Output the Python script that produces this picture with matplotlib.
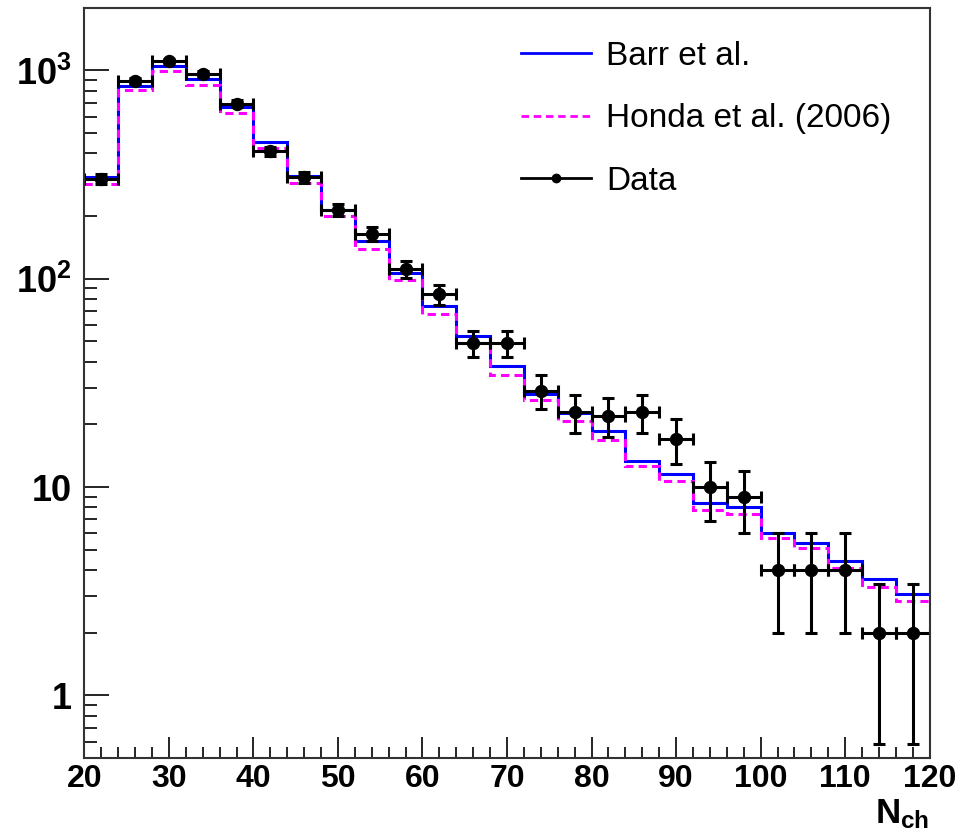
import numpy as np
import matplotlib
matplotlib.use('Agg')
import matplotlib.pyplot as plt
from matplotlib.lines import Line2D
from matplotlib.ticker import FixedLocator, FixedFormatter, MultipleLocator

plt.rcParams['font.family'] = ['Liberation Sans', 'DejaVu Sans']
plt.rcParams['mathtext.fontset'] = 'custom'
plt.rcParams['mathtext.bf'] = 'Liberation Sans:bold'
plt.rcParams['mathtext.rm'] = 'Liberation Sans'

# binning in N_ch
edges = np.arange(20, 121, 4)
centers = edges[:-1] + 2

# event counts
data = [301, 888, 1105, 964, 692, 409, 307, 214, 164, 111, 84, 49, 49,
        29, 23, 22, 23, 17, 10, 9, 4, 4, 4, 2, 2]
barr = [307, 841, 1045, 905, 671, 452, 310, 213, 151, 107, 74, 53, 38,
        28, 22.6, 18.5, 13.3, 11.6, 8.4, 8.0, 6.0, 5.4, 4.4, 3.6, 3.05]
honda = [285, 801, 990, 847, 624, 423, 287, 201, 139, 98.6, 67.6, 48.9, 34.5,
         26.1, 20.7, 16.8, 12.6, 10.7, 7.8, 7.4, 5.7, 5.1, 4.1, 3.3, 2.83]

data = np.array(data, dtype=float)
yerr = np.sqrt(data)

fig = plt.figure(figsize=(9.74, 8.39), dpi=100)
ax = fig.add_axes([0.0866, 0.0965, 0.9545 - 0.0866, 0.9908 - 0.0965])

ax.stairs(barr, edges, color='#0000ff', lw=2.2, baseline=None)
ax.stairs(honda, edges, color='#ff00ff', lw=2.2, baseline=None,
          linestyle=(0, (2.7, 1.7)))
ax.errorbar(centers, data, yerr=yerr, xerr=2, fmt='o', color='black',
            ms=8.6, elinewidth=2.2, capsize=4, capthick=2.2)

ax.set_yscale('log')
ax.set_xlim(20, 120)
ax.set_ylim(0.5, 2000)

ax.xaxis.set_major_locator(MultipleLocator(10))
ax.xaxis.set_minor_locator(MultipleLocator(2))
ax.tick_params(axis='both', which='both', direction='in', top=False, right=False)
ax.tick_params(axis='x', which='major', length=15, width=1.2, labelsize=23, pad=4)
ax.tick_params(axis='x', which='minor', length=8, width=1.2)
ax.tick_params(axis='y', which='major', length=18, width=1.2, labelsize=26, pad=9)
ax.tick_params(axis='y', which='minor', length=9, width=1.2)

ax.yaxis.set_major_locator(FixedLocator([1, 10, 100, 1000]))
ax.yaxis.set_major_formatter(FixedFormatter(['1', '10', r'$\mathbf{10^{2}}$', r'$\mathbf{10^{3}}$']))
for lab in ax.get_yticklabels() + ax.get_xticklabels():
    lab.set_fontweight('bold')

for s in ax.spines.values():
    s.set_linewidth(1.5)
    s.set_color('#333333')

ax.set_xlabel(r'$\mathbf{N_{ch}}$', loc='right', fontsize=25, labelpad=3)

handles = [Line2D([], [], color='#0000ff', lw=2),
           Line2D([], [], color='#ff00ff', lw=2, linestyle=(0, (2.7, 1.7))),
           Line2D([], [], color='black', lw=2, marker='o', ms=6)]
ax.legend(handles, ['Barr et al.', 'Honda et al. (2006)', 'Data'],
          loc='upper left', bbox_to_anchor=(0.481, 0.996), frameon=False,
          prop={'size': 24}, handlelength=2.1, handletextpad=0.45,
          labelspacing=0.95)

fig.savefig('out.png', dpi=100)
